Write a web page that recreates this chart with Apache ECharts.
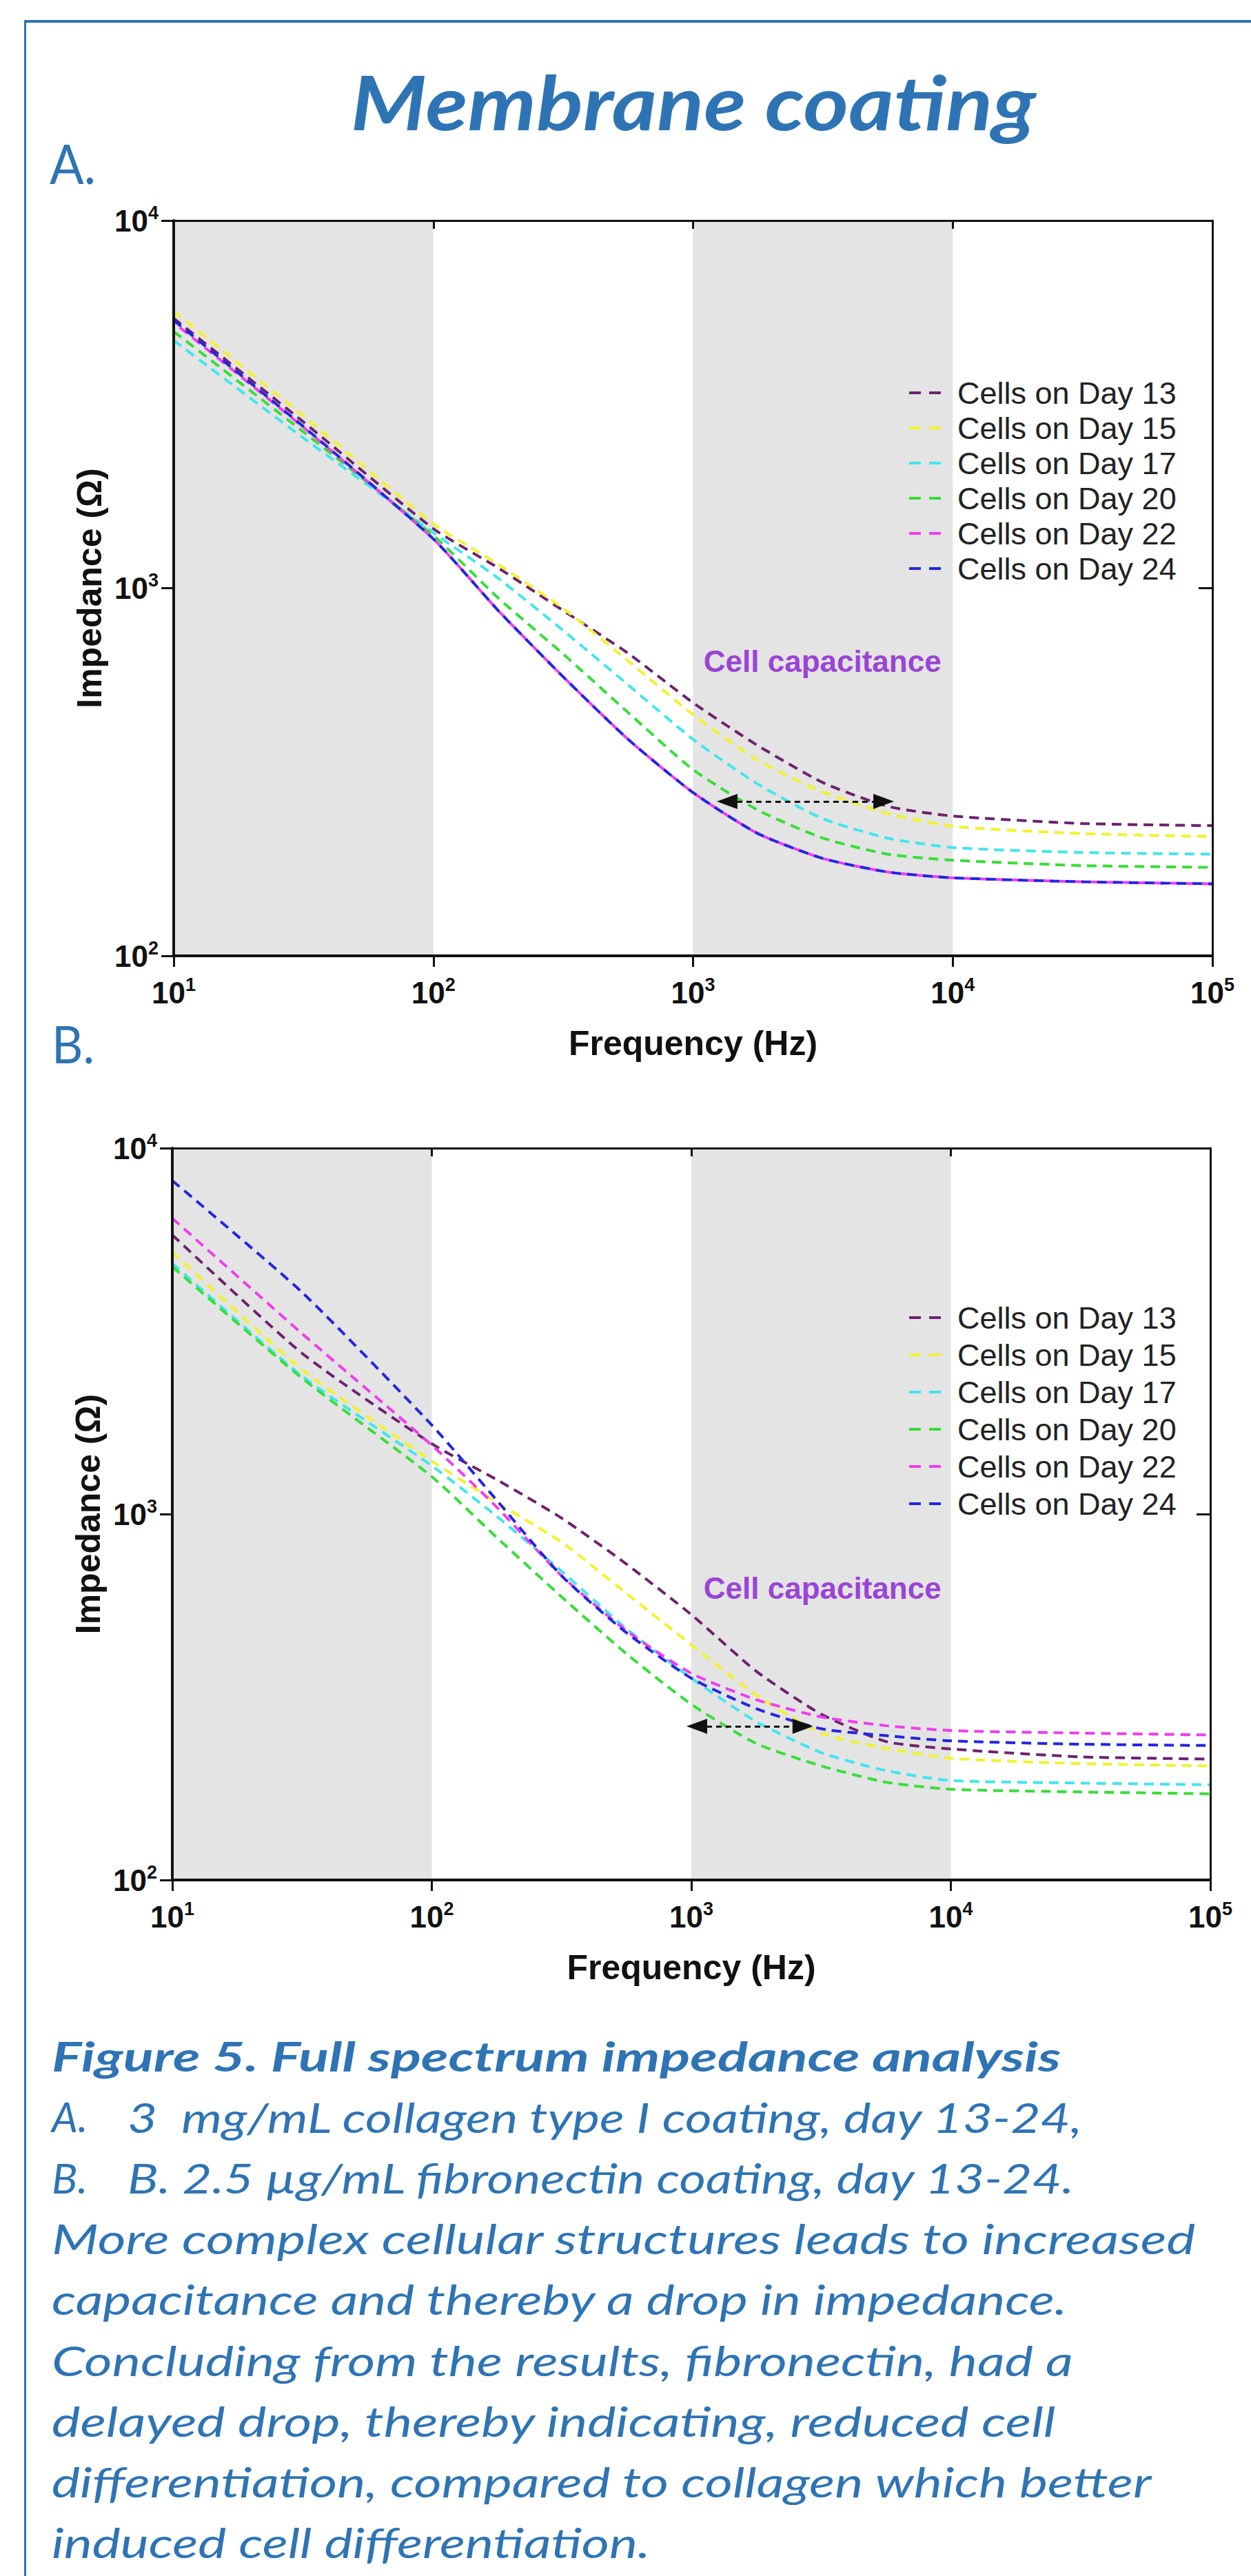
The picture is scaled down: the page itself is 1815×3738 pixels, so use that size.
<!DOCTYPE html>
<html>
<head>
<meta charset="utf-8">
<script src="https://cdn.jsdelivr.net/npm/echarts@6/dist/echarts.min.js"></script>
<style>
html,body{margin:0;padding:0;background:#ffffff;}
#chart{width:1815px;height:3738px;}
</style>
</head>
<body>
<div id="chart"></div>
<script>
// ---------------- DATA ----------------
const frequencies = [10, 31.62, 100, 177.8, 316.2, 562.3, 1000, 1778, 3162, 5623, 10000, 31623, 100000];
const seriesNames = ['Cells on Day 13', 'Cells on Day 15', 'Cells on Day 17', 'Cells on Day 20', 'Cells on Day 22', 'Cells on Day 24'];

// Panel A: 3 mg/mL collagen type I coating (impedance, ohm)
const collagenDay13 = [5420, 2831, 1452, 1135, 869, 665, 488, 373, 296, 255, 240, 229, 226];
const collagenDay15 = [5660, 2940, 1496, 1161, 881, 634, 453, 340, 279, 244, 225, 215, 211];
const collagenDay17 = [4720, 2560, 1416, 1064, 767, 546, 388, 293, 236, 209, 197, 191, 189];
const collagenDay20 = [4990, 2660, 1390, 940, 662, 459, 321, 249, 209, 189, 182, 176, 174];
const collagenDay22 = [5280, 2735, 1361, 869, 574, 388, 278, 215, 184, 169, 163, 159, 157];
const collagenDay24 = [5350, 2750, 1361, 869, 574, 388, 278, 215, 184, 169, 163, 159, 157];

// Panel B: 2.5 ug/mL fibronectin coating (impedance, ohm)
const fibronectinDay13 = [5790, 2750, 1556, 1242, 975, 730, 531, 372, 284, 239, 228, 217, 214];
const fibronectinDay15 = [5200, 2483, 1396, 1076, 838, 607, 439, 320, 252, 229, 215, 208, 205];
const fibronectinDay17 = [4840, 2382, 1355, 986, 698, 486, 356, 271, 223, 199, 187, 184, 182];
const fibronectinDay20 = [4740, 2350, 1265, 863, 594, 415, 302, 236, 205, 185, 177, 174, 172];
const fibronectinDay22 = [6430, 3112, 1542, 1045, 678, 480, 367, 311, 279, 264, 256, 252, 249];
const fibronectinDay24 = [8150, 4036, 1750, 1091, 678, 474, 356, 294, 259, 248, 240, 235, 233];

// Shaded frequency bands (Hz)
const shadedBands = [[10, 100], [1000, 10000]];
// Tick exponents (labels 10^n)
const xTickExponents = [1, 2, 3, 4, 5];
const yTickExponents = [2, 3, 4];
// Annotations (data coordinates)
const capacitanceArrowA = { from: 1352, to: 5420, impedance: 263 };
const capacitanceArrowB = { from: 1050, to: 2690, impedance: 263 };
const capacitanceLabelA = { freq: 3150, impedance: 634 };
const capacitanceLabelB = { freq: 3200, impedance: 628 };
const annotationText = 'Cell capacitance';

// ---------------- STYLE ----------------
const colors = ['#6e226e', '#f2f22c', '#40e6ee', '#36de36', '#f03cf0', '#2424e4'];
const axisFont = 'Liberation Sans';
const ink = '#111111';
const blueText = '#2e74b5';

const supLabel = (v) => {
  const e = Math.round(Math.log10(v));
  return '{b|10}{s|' + e + '}';
};
const tickRich = {
  b: { fontFamily: axisFont, fontWeight: 'bold', fontSize: 44, color: ink, lineHeight: 50 },
  s: { fontFamily: axisFont, fontWeight: 'bold', fontSize: 27, color: ink, lineHeight: 27, verticalAlign: 'top' }
};
const nameStyle = { fontFamily: axisFont, fontWeight: 'bold', fontSize: 50, color: ink };

function xAxesFor(g) {
  return [
    {
      type: 'log', logBase: 10, gridIndex: g, min: 10, max: 100000, position: 'bottom', z: 10,
      axisLine: { show: true, onZero: false, lineStyle: { color: ink, width: 4 } },
      axisTick: { show: true, inside: false, length: 16, lineStyle: { color: ink, width: 3 } },
      axisLabel: { margin: 28, showMinLabel: true, showMaxLabel: true,
        formatter: (v) => xTickExponents.indexOf(Math.round(Math.log10(v))) >= 0 ? supLabel(v) : '', rich: tickRich },
      splitLine: { show: false }, minorTick: { show: false },
      name: 'Frequency (Hz)', nameLocation: 'middle', nameGap: 102, nameTextStyle: nameStyle
    },
    {
      type: 'log', logBase: 10, gridIndex: g, min: 10, max: 100000, position: 'top', z: 10,
      axisLine: { show: true, onZero: false, lineStyle: { color: ink, width: 3 } },
      axisTick: { show: true, inside: true, length: 12, lineStyle: { color: ink, width: 3 } },
      axisLabel: { show: false }, splitLine: { show: false }
    }
  ];
}
function yAxesFor(g) {
  return [
    {
      type: 'log', logBase: 10, gridIndex: g, min: 100, max: 10000, position: 'left', z: 10,
      axisLine: { show: true, onZero: false, lineStyle: { color: ink, width: 4 } },
      axisTick: { show: true, inside: false, length: 18, lineStyle: { color: ink, width: 3 } },
      axisLabel: { margin: 22, showMinLabel: true, showMaxLabel: true,
        formatter: (v) => yTickExponents.indexOf(Math.round(Math.log10(v))) >= 0 ? supLabel(v) : '', rich: tickRich },
      splitLine: { show: false },
      name: 'Impedance (Ω)', nameLocation: 'middle', nameGap: 95, nameRotate: 90, nameTextStyle: nameStyle
    },
    {
      type: 'log', logBase: 10, gridIndex: g, min: 100, max: 10000, position: 'right', z: 10,
      axisLine: { show: true, onZero: false, lineStyle: { color: ink, width: 3 } },
      axisTick: { show: true, inside: true, length: 20, lineStyle: { color: ink, width: 3 } },
      axisLabel: { show: false }, splitLine: { show: false }
    }
  ];
}

function panelSeries(g, sets, arrow, label, overlapOffsets) {
  const out = [];
  out.push({
    type: 'line', xAxisIndex: 2 * g, yAxisIndex: 2 * g, data: [], silent: true, z: 1,
    markArea: { silent: true, itemStyle: { color: '#e4e4e4' },
      data: shadedBands.map(b => [{ xAxis: b[0] }, { xAxis: b[1] }]) }
  });
  sets.forEach((vals, i) => {
    out.push({
      type: 'line', name: seriesNames[i], xAxisIndex: 2 * g, yAxisIndex: 2 * g,
      data: frequencies.map((f, k) => [f, vals[k]]),
      symbol: 'none', showSymbol: false, smooth: 0.2, silent: true, z: 3,
      itemStyle: { color: colors[i] },
      lineStyle: { color: colors[i], width: 4, type: [14, 9], dashOffset: overlapOffsets[i] || 0 }
    });
  });
  out.push({
    type: 'line', xAxisIndex: 2 * g, yAxisIndex: 2 * g, data: [], silent: true, z: 5,
    markLine: { silent: true, symbol: ['triangle', 'triangle'], symbolSize: [22, 30],
      label: { show: false }, lineStyle: { color: ink, width: 3, type: [8, 6] },
      emphasis: { disabled: true },
      data: [[{ coord: [arrow.from, arrow.impedance] }, { coord: [arrow.to, arrow.impedance] }]] },
    markPoint: { silent: true, symbol: 'circle', symbolSize: 1, itemStyle: { color: 'rgba(0,0,0,0)' },
      label: { show: true, position: 'inside', formatter: annotationText, color: '#9a44d6',
        fontFamily: axisFont, fontWeight: 'bold', fontSize: 44 },
      data: [{ coord: [label.freq, label.impedance] }] }
  });
  return out;
}

const legendBase = {
  data: seriesNames, orient: 'vertical', left: 1317, itemWidth: 47, itemHeight: 14, padding: 0,
  selectedMode: false,
  itemStyle: { opacity: 0, borderWidth: 0 },
  lineStyle: { width: 4, type: [17, 12], dashOffset: 0, opacity: 1 },
  textStyle: { fontFamily: axisFont, fontSize: 45, color: '#222', lineHeight: 46, padding: [0, 0, 0, 18] }
};

// ---------------- TEXT (title / caption) ----------------
const measureCtx = document.createElement('canvas').getContext('2d');
function fitScale(text, font, target) {
  measureCtx.font = font;
  return target / measureCtx.measureText(text).width;
}
const captionFamily = 'Lato, "Open Sans", sans-serif';
const graphics = [];
graphics.push({ type: 'rect', shape: { x: 35, y: 29, width: 1780, height: 4 }, style: { fill: blueText }, silent: true });
graphics.push({ type: 'rect', shape: { x: 35, y: 29, width: 3, height: 3709 }, style: { fill: blueText }, silent: true });

function addText(text, x, y, font, targetWidth, align) {
  const sx = fitScale(text, font, targetWidth);
  graphics.push({ type: 'text', x: x, y: y, scaleX: sx, silent: true,
    style: { text: text, x: 0, y: 0, font: font, fill: blueText, align: align || 'left', verticalAlign: 'middle' } });
}
addText('Membrane coating', 1006, 146, 'italic bold 110px ' + captionFamily, 995, 'center');
addText('A.', 72, 236, '80px ' + captionFamily, 67);
addText('B.', 75, 1514, '76px ' + captionFamily, 62);

const captionLines = [
  { text: 'Figure 5. Full spectrum impedance analysis', x: 75, right: 1539, bold: true },
  { marker: 'A.', text: '3  mg/mL collagen type I coating, day 13-24,', x: 185, right: 1574 },
  { marker: 'B.', text: 'B. 2.5 µg/mL fibronectin coating, day 13-24.', x: 185, right: 1562 },
  { text: 'More complex cellular structures leads to increased', x: 75, right: 1736 },
  { text: 'capacitance and thereby a drop in impedance.', x: 75, right: 1551 },
  { text: 'Concluding from the results, fibronectin, had a', x: 75, right: 1557 },
  { text: 'delayed drop, thereby indicating, reduced cell', x: 75, right: 1534 },
  { text: 'differentiation, compared to collagen which better', x: 75, right: 1672 },
  { text: 'induced cell differentiation.', x: 75, right: 943 }
];
captionLines.forEach((ln, i) => {
  const y = 2983 + i * 88.3;
  const font = 'italic ' + (ln.bold ? 'bold ' : '') + '60px ' + captionFamily;
  if (ln.marker) addText(ln.marker, 75, y, font, 52);
  addText(ln.text, ln.x, y, font, ln.right - ln.x);
});

// ---------------- OPTION ----------------
const option = {
  animation: false,
  backgroundColor: '#ffffff',
  grid: [
    { left: 252, top: 320, width: 1507, height: 1067, outerBoundsMode: 'none', containLabel: false },
    { left: 250, top: 1666, width: 1506, height: 1062, outerBoundsMode: 'none', containLabel: false }
  ],
  xAxis: [...xAxesFor(0), ...xAxesFor(1)],
  yAxis: [...yAxesFor(0), ...yAxesFor(1)],
  legend: [
    Object.assign({}, legendBase, { top: 547, itemGap: 5 }),
    Object.assign({}, legendBase, { top: 1889, itemGap: 8 })
  ],
  series: [
    ...panelSeries(0, [collagenDay13, collagenDay15, collagenDay17, collagenDay20, collagenDay22, collagenDay24], capacitanceArrowA, capacitanceLabelA, [0, 0, 0, 0, 11, 0]),
    ...panelSeries(1, [fibronectinDay13, fibronectinDay15, fibronectinDay17, fibronectinDay20, fibronectinDay22, fibronectinDay24], capacitanceArrowB, capacitanceLabelB, [0, 0, 0, 0, 0, 0])
  ],
  graphic: graphics
};

const chart = echarts.init(document.getElementById('chart'), null, { renderer: 'svg' });
chart.setOption(option);
</script>
</body>
</html>
